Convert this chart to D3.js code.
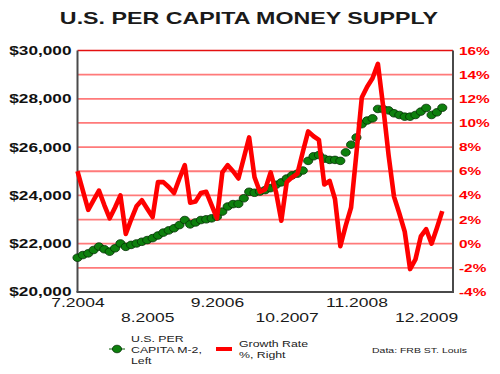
<!DOCTYPE html>
<html>
<head>
<meta charset="utf-8">
<script src="https://cdn.jsdelivr.net/npm/d3@7"></script>
<style>
  body { margin: 0; background: #fff; }
  text { font-family: "Liberation Sans", Arial, sans-serif; }
</style>
</head>
<body>
<div id="chart"></div>
<script>
// month categories on the x axis
const months = [
  "7.2004","8.2004","9.2004","10.2004","11.2004","12.2004",
  "1.2005","2.2005","3.2005","4.2005","5.2005","6.2005","7.2005","8.2005","9.2005","10.2005","11.2005","12.2005",
  "1.2006","2.2006","3.2006","4.2006","5.2006","6.2006","7.2006","8.2006","9.2006","10.2006","11.2006","12.2006",
  "1.2007","2.2007","3.2007","4.2007","5.2007","6.2007","7.2007","8.2007","9.2007","10.2007","11.2007","12.2007",
  "1.2008","2.2008","3.2008","4.2008","5.2008","6.2008","7.2008","8.2008","9.2008","10.2008","11.2008","12.2008",
  "1.2009","2.2009","3.2009","4.2009","5.2009","6.2009","7.2009","8.2009","9.2009","10.2009","11.2009","12.2009",
  "1.2010","2.2010","3.2010","4.2010","5.2010"
];
const xTickLabels = ["7.2004","8.2005","9.2006","10.2007","11.2008","12.2009"];

// per capita M-2, left axis ($)
const m2PerCapita = [
  21420, 21530, 21600, 21740, 21880, 21770, 21670, 21810, 22010, 21870,
  21950, 22010, 22080, 22150, 22230, 22340, 22460, 22550, 22640, 22770,
  22980, 22800, 22880, 22980, 23010, 23050, 23120, 23330, 23540, 23640,
  23650, 23880, 24150, 24110, 24160, 24220, 24300, 24440, 24540, 24700,
  24830, 24900, 25030, 25430, 25620, 25670, 25520, 25470, 25470, 25430,
  25780, 26100, 26400, 26950, 27100, 27190, 27580, 27570, 27520, 27400,
  27330, 27260, 27260, 27330, 27470, 27620, 27330, 27440, 27630
];

// growth rate %, right axis
const growthRate = [
  6.0, 4.4, 2.8, 3.6, 4.4, 3.2, 2.1, 3.0, 4.0, 0.8,
  2.0, 3.1, 3.6, 2.9, 2.2, 5.1, 5.1, 4.7, 4.2, 5.4,
  6.5, 3.4, 3.5, 4.2, 4.3, 3.2, 2.1, 5.9, 6.5, 6.0,
  5.4, 7.1, 8.8, 5.5, 4.3, 4.5, 5.9, 4.3, 1.9, 5.1,
  5.5, 5.8, 7.6, 9.3, 8.9, 8.6, 4.9, 5.2, 3.7, -0.2,
  1.5, 3.0, 7.5, 12.1, 13.0, 13.7, 14.9, 11.3, 7.3, 3.9,
  2.5, 1.0, -2.1, -1.3, 0.6, 1.2, 0.0, 1.3, 2.7
];

const leftTicks = [20000, 22000, 24000, 26000, 28000, 30000];
const rightTicks = [-4, -2, 0, 2, 4, 6, 8, 10, 12, 14, 16];

// layout
const W = 500, H = 374;
const plot = { left: 77.5, right: 453, top: 50.5, bottom: 292 };
const SX = 1.4; // the original picture is stretched sideways, so is the text

const svg = d3.select("#chart").append("svg")
  .attr("width", W)
  .attr("height", H);

const x = d3.scalePoint()
  .domain(months)
  .range([plot.left, plot.right]);

const yLeft = d3.scaleLinear()
  .domain([20000, 30000])
  .range([plot.bottom, plot.top]);

const yRight = d3.scaleLinear()
  .domain([-4, 16])
  .range([plot.bottom, plot.top]);

function addText(parent, px, py, str, anchor) {
  return parent.append("text")
    .attr("transform", `translate(${px},${py}) scale(${SX},1)`)
    .attr("text-anchor", anchor || "start")
    .text(str);
}

function stretchTicks(g) {
  g.selectAll(".tick text")
    .attr("x", function () { return (+d3.select(this).attr("x") || 0) / SX; })
    .attr("transform", `scale(${SX},1)`);
}

// title
addText(svg, 249, 23.5, "U.S. PER CAPITA MONEY SUPPLY", "middle")
  .style("font-size", "16.6px")
  .style("font-weight", "bold")
  .style("fill", "#1a1a1a");

// gridlines (every 2 % on the right axis)
svg.append("g")
  .selectAll("line")
  .data(rightTicks.filter(d => d > -4))
  .enter().append("line")
  .attr("x1", plot.left)
  .attr("x2", plot.right)
  .attr("y1", d => yRight(d))
  .attr("y2", d => yRight(d))
  .style("stroke", d => d === 16 ? "#e41010" : "#ff7a7a")
  .style("stroke-width", d => d === 16 ? 1.6 : 1.8);

// axis frame lines
const frame = svg.append("g").style("stroke", "#4a4a4a").style("stroke-width", 2);
frame.append("line").attr("x1", plot.left).attr("x2", plot.left).attr("y1", plot.top).attr("y2", plot.bottom);
frame.append("line").attr("x1", plot.right).attr("x2", plot.right).attr("y1", plot.top).attr("y2", plot.bottom);
frame.append("line").attr("x1", plot.left - 1).attr("x2", plot.right + 1).attr("y1", plot.bottom).attr("y2", plot.bottom);

// left axis
const leftAxis = svg.append("g")
  .attr("transform", `translate(${plot.left - 1},0)`)
  .call(d3.axisLeft(yLeft).tickValues(leftTicks).tickSize(0).tickPadding(5)
    .tickFormat(d => "$" + d3.format(",")(d)));
leftAxis.select(".domain").remove();
leftAxis.selectAll("text")
  .style("font-size", "12.3px")
  .style("font-weight", "bold")
  .style("fill", "#111")
  .style("font-family", "'Liberation Sans', Arial, sans-serif");
stretchTicks(leftAxis);

// right axis
const rightAxis = svg.append("g")
  .attr("transform", `translate(${plot.right + 1},0)`)
  .call(d3.axisRight(yRight).tickValues(rightTicks).tickSize(0).tickPadding(5)
    .tickFormat(d => d + "%"));
rightAxis.select(".domain").remove();
rightAxis.selectAll("text")
  .style("font-size", "11px")
  .style("font-weight", "bold")
  .style("fill", "#ff0000")
  .style("font-family", "'Liberation Sans', Arial, sans-serif");
stretchTicks(rightAxis);

// bottom axis, labels on two rows
const bottomAxis = svg.append("g")
  .attr("transform", `translate(0,${plot.bottom})`)
  .call(d3.axisBottom(x).tickValues(xTickLabels).tickSize(0));
bottomAxis.select(".domain").remove();
bottomAxis.selectAll("text")
  .attr("y", (d, i) => i % 2 === 0 ? 6.5 : 21.5)
  .style("font-size", "12.5px")
  .style("fill", "#1a1a1a")
  .style("font-family", "'Liberation Sans', Arial, sans-serif");
stretchTicks(bottomAxis);

// M-2 markers
svg.append("g")
  .selectAll("ellipse")
  .data(m2PerCapita)
  .enter().append("ellipse")
  .attr("cx", (d, i) => x(months[i]))
  .attr("cy", d => yLeft(d))
  .attr("rx", 4.6)
  .attr("ry", 3.8)
  .style("fill", "#0d800d")
  .style("stroke", "#053005")
  .style("stroke-width", 0.8);

// growth rate line
const line = d3.line()
  .x((d, i) => x(months[i]))
  .y(d => yRight(d));

svg.append("path")
  .datum(growthRate)
  .attr("d", line)
  .style("fill", "none")
  .style("stroke", "#ff0000")
  .style("stroke-width", 4.6)
  .style("stroke-linejoin", "round");

// legend
const legend = svg.append("g");
legend.append("line")
  .attr("x1", 109).attr("x2", 125).attr("y1", 349).attr("y2", 349)
  .style("stroke", "#0d600d").style("stroke-width", 1);
legend.append("ellipse")
  .attr("cx", 117).attr("cy", 349).attr("rx", 4.6).attr("ry", 3.8)
  .style("fill", "#0d800d").style("stroke", "#053005").style("stroke-width", 0.8);
["U.S. PER", "CAPITA M-2,", "Left"].forEach((t, i) => {
  addText(legend, 131, 341.5 + i * 11, t).style("font-size", "8.8px").style("fill", "#222");
});
legend.append("line")
  .attr("x1", 216).attr("x2", 232).attr("y1", 349).attr("y2", 349)
  .style("stroke", "#ff0000").style("stroke-width", 4);
["Growth Rate", "%, Right"].forEach((t, i) => {
  addText(legend, 239, 346.5 + i * 11.5, t).style("font-size", "8.8px").style("fill", "#222");
});
addText(legend, 372, 353, "Data: FRB ST. Louis").style("font-size", "7.5px").style("fill", "#222");
</script>
</body>
</html>
